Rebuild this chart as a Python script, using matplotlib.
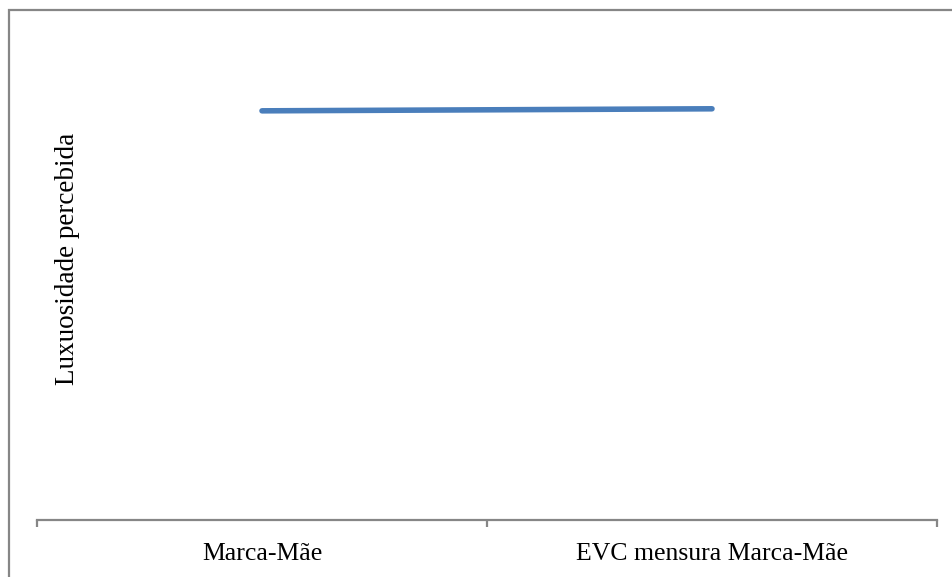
import matplotlib.pyplot as plt
from matplotlib.patches import Rectangle

categories = ["Marca-Mãe", "EVC mensura Marca-Mãe"]
luxury = [5.00, 5.025]

plt.rcParams["font.family"] = ["Liberation Serif", "DejaVu Serif"]

fig = plt.figure(figsize=(9.52, 5.77), dpi=100)
ax = fig.add_axes([37 / 952, 1 - 520 / 577, 900 / 952, 491 / 577])

# chart frame, clipped by the right and bottom edges of the canvas
fig.patches.append(Rectangle((8.5 / 952, -0.05), 1.0, 1 - 9.5 / 577 + 0.05,
                             transform=fig.transFigure, fill=False,
                             edgecolor="#868686", linewidth=1.6))

x = [i + 0.5 for i in range(len(categories))]
ax.plot(x, luxury, color="#4a7ebb", linewidth=4.0, solid_capstyle="round")

ax.set_xlim(0, len(categories))
ax.set_ylim(0, 6)

for side in ["left", "right", "top"]:
    ax.spines[side].set_visible(False)
ax.spines["bottom"].set_color("#868686")
ax.spines["bottom"].set_linewidth(1.6)

ax.set_yticks([])
ax.set_xticks(x)
ax.set_xticklabels(categories, fontsize=18.5)
ax.tick_params(axis="x", which="major", length=0, pad=16.5)
ax.set_xticks(range(len(categories) + 1), minor=True)
ax.tick_params(axis="x", which="minor", length=5, width=1.6, color="#868686")

fig.text(68 / 952, 1 - 259 / 577, "Luxuosidade percebida", rotation=90,
         ha="center", va="center", fontsize=19.5)

fig.savefig("out.png", dpi=100)
